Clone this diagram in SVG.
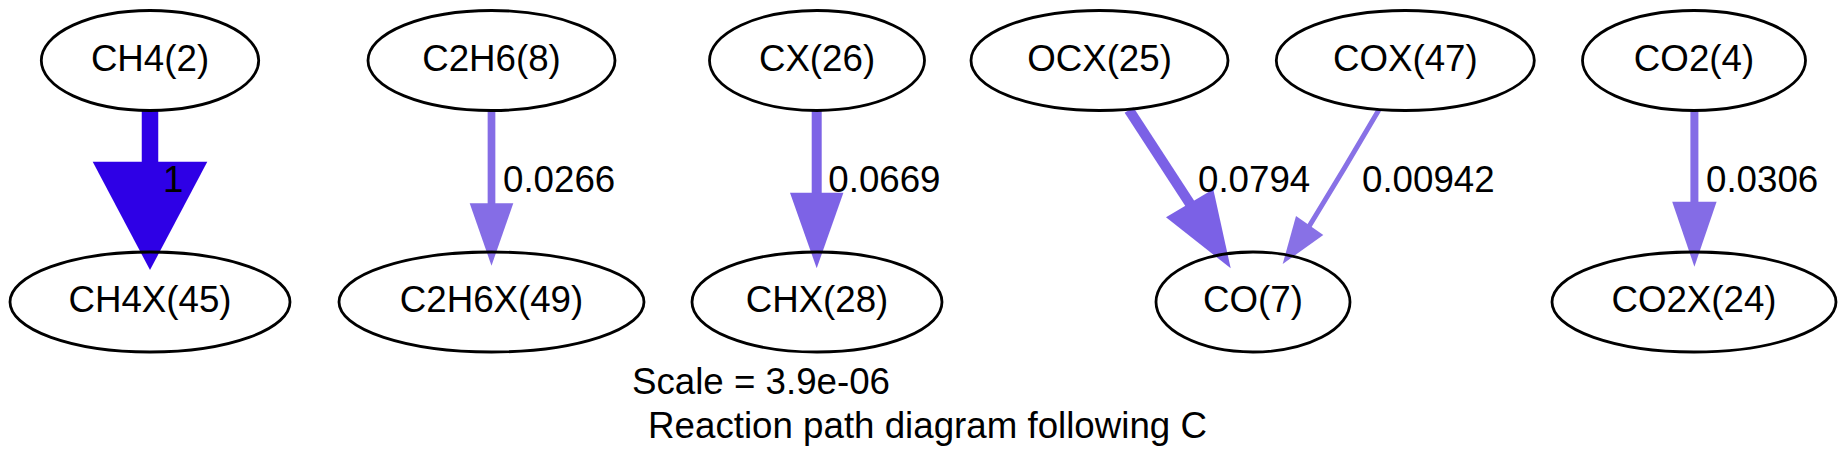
<svg xmlns="http://www.w3.org/2000/svg" width="1847" height="469" viewBox="0 0 1847 469">
<style>
.node ellipse{fill:none;stroke:#000;stroke-width:2.8}
text{font-family:"Liberation Sans",Arial,Helvetica,sans-serif;font-size:36.7px;fill:#000}
.nl{text-anchor:middle}
.e path{fill:none}
</style>
<rect width="1847" height="469" fill="#fff"/>
<g id="connectors">
  <g id="e-ch4" class="e">
    <path d="M150,110.5 V163" stroke="#2e00e6" stroke-width="16.5"/>
    <polygon points="92.7,161.7 207.3,161.7 150,270" fill="#2e00e6"/>
    <text x="163" y="191.5">1</text>
  </g>
  <g id="e-c2h6" class="e">
    <path d="M491.5,110.5 V204" stroke="#856de6" stroke-width="7.7"/>
    <polygon points="469.7,203.3 513.3,203.3 491.5,265.7" fill="#856de6"/>
    <text x="503" y="191.5">0.0266</text>
  </g>
  <g id="e-cx" class="e">
    <path d="M816.7,110.5 V193.5" stroke="#7d63e6" stroke-width="10"/>
    <polygon points="790,192.7 843.4,192.7 816.7,268.3" fill="#7d63e6"/>
    <text x="828.3" y="191.5">0.0669</text>
  </g>
  <g id="e-ocx" class="e">
    <path d="M1129,110 L1190.5,204.5" stroke="#7b61e6" stroke-width="10.4"/>
    <polygon points="1166,217.3 1213.3,189.3 1230.7,268.3" fill="#7b61e6"/>
    <text x="1198" y="191.5">0.0794</text>
  </g>
  <g id="e-cox" class="e">
    <path d="M1378.8,110 Q1345,168 1309,226.5" stroke="#8871e6" stroke-width="5"/>
    <polygon points="1296,216 1323.3,235 1282.7,264" fill="#8871e6"/>
    <text x="1362" y="191.5">0.00942</text>
  </g>
  <g id="e-co2" class="e">
    <path d="M1694.4,110.5 V202.5" stroke="#846ce6" stroke-width="8"/>
    <polygon points="1672.2,201.7 1716.6,201.7 1694.4,266.7" fill="#846ce6"/>
    <text x="1706" y="191.5">0.0306</text>
  </g>
</g>
<g id="n-ch4" class="node"><ellipse cx="150" cy="60.5" rx="108.7" ry="50"/><text class="nl" x="150" y="70.5">CH4(2)</text></g>
<g id="n-ch4x" class="node"><ellipse cx="150" cy="302" rx="140" ry="50"/><text class="nl" x="150" y="312">CH4X(45)</text></g>
<g id="n-c2h6" class="node"><ellipse cx="491.5" cy="60.5" rx="123.5" ry="50"/><text class="nl" x="491.5" y="70.5">C2H6(8)</text></g>
<g id="n-c2h6x" class="node"><ellipse cx="491.5" cy="302" rx="152.5" ry="50"/><text class="nl" x="491.5" y="312">C2H6X(49)</text></g>
<g id="n-cx" class="node"><ellipse cx="817" cy="60.5" rx="107.5" ry="50"/><text class="nl" x="817" y="70.5">CX(26)</text></g>
<g id="n-chx" class="node"><ellipse cx="817" cy="302" rx="125" ry="50"/><text class="nl" x="817" y="312">CHX(28)</text></g>
<g id="n-ocx" class="node"><ellipse cx="1099.5" cy="60.5" rx="128.5" ry="50"/><text class="nl" x="1099.5" y="70.5">OCX(25)</text></g>
<g id="n-cox" class="node"><ellipse cx="1405.3" cy="60.5" rx="129" ry="50"/><text class="nl" x="1405.3" y="70.5">COX(47)</text></g>
<g id="n-co" class="node"><ellipse cx="1253" cy="302" rx="97" ry="50"/><text class="nl" x="1253" y="312">CO(7)</text></g>
<g id="n-co2" class="node"><ellipse cx="1694" cy="60.5" rx="111.5" ry="50"/><text class="nl" x="1694" y="70.5">CO2(4)</text></g>
<g id="n-co2x" class="node"><ellipse cx="1694" cy="302" rx="142" ry="50"/><text class="nl" x="1694" y="312">CO2X(24)</text></g>
<g id="graph-label">
  <text x="632" y="393.5">Scale = 3.9e-06</text>
  <text x="927.5" y="437.5" text-anchor="middle">Reaction path diagram following C</text>
</g>
</svg>
